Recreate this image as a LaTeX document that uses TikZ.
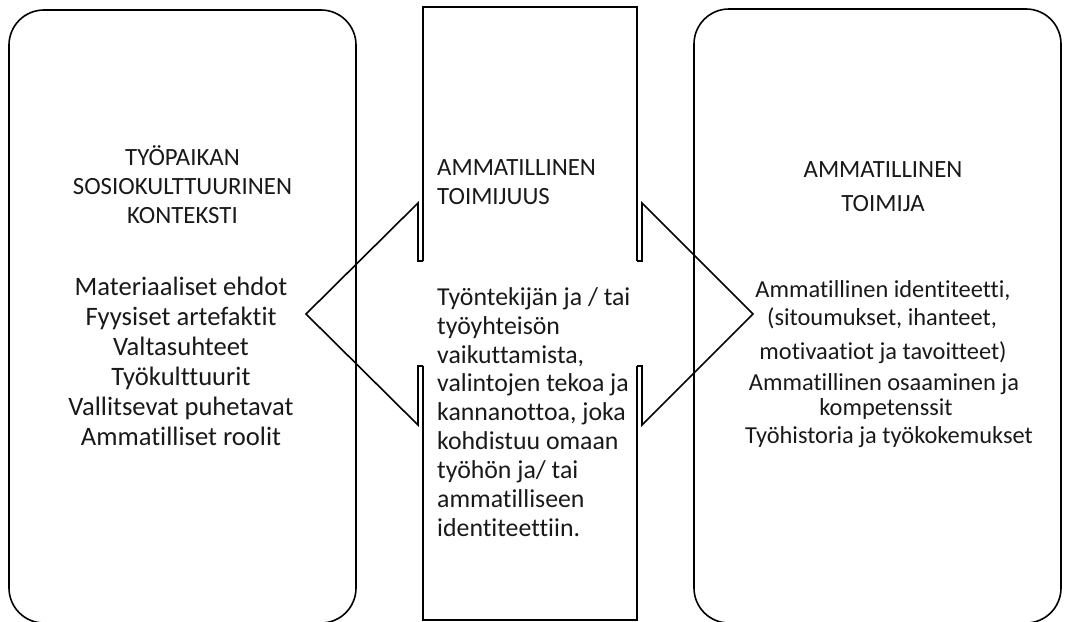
\documentclass[tikz,border=0pt]{standalone}
\usepackage{fontspec}
\setmainfont{Carlito}[Ligatures=NoCommon]
\begin{document}
\begin{tikzpicture}[x=1pt,y=-1pt,
  frame/.style={line width=1.6pt, draw=black},
  txt/.style={anchor=base, inner sep=0pt, text=black!90},
  head/.style={txt, font=\fontsize{24.8}{29}\selectfont},
  lbody/.style={txt, font=\fontsize{26.6}{30}\selectfont},
  mbody/.style={txt, anchor=base west, font=\fontsize{25.8}{30}\selectfont},
  rbody/.style={txt, font=\fontsize{24.4}{30}\selectfont}]
\useasboundingbox (0,0) rectangle (1065,621);
\begin{scope}
\clip (0,0) rectangle (1065,621);
% left rounded box
\draw[frame, rounded corners=35pt] (9,10) rectangle (356,623);
% right rounded box
\draw[frame, rounded corners=35pt] (694,9) rectangle (1061,623);
\end{scope}
% middle box coordinates
\coordinate (mtl) at (423,7);
\coordinate (mtr) at (637,7);
\coordinate (mbl) at (423,620);
\coordinate (mbr) at (637,620);
\coordinate (mlu) at (423,261);
\coordinate (mld) at (423,366);
\coordinate (mru) at (637,261);
\coordinate (mrd) at (637,366);
\draw[frame, line join=miter] (mlu) -- (mtl) -- (mtr) -- (mru);
\draw[frame, line join=miter] (mld) -- (mbl) -- (mbr) -- (mrd);
% left arrow head
\coordinate (la1) at (418,261);
\coordinate (la2) at (418,203);
\coordinate (ltip) at (306,314);
\coordinate (la3) at (418,425);
\coordinate (la4) at (418,366);
\draw[frame, line join=miter] (mlu) -- (la1) -- (la2) -- (ltip) -- (la3) -- (la4) -- (mld);
% right arrow head
\coordinate (ra1) at (642,261);
\coordinate (ra2) at (642,203);
\coordinate (rtip) at (753,314);
\coordinate (ra3) at (642,425);
\coordinate (ra4) at (642,366);
\draw[frame, line join=miter] (mru) -- (ra1) -- (ra2) -- (rtip) -- (ra3) -- (ra4) -- (mrd);
% left texts
\node[head] (lh1) at (182.5,165) {TYÖPAIKAN};
\node[head] (lh2) at (182.5,194) {SOSIOKULTTUURINEN};
\node[head] (lh3) at (182.5,223) {KONTEKSTI};
\node[lbody] (l1) at (181,295) {Materiaaliset ehdot};
\node[lbody] (l2) at (181,325) {Fyysiset artefaktit};
\node[lbody] (l3) at (181,355) {Valtasuhteet};
\node[lbody] (l4) at (181,385) {Työkulttuurit};
\node[lbody] (l5) at (181,415) {Vallitsevat puhetavat};
\node[lbody] (l6) at (181,445) {Ammatilliset roolit};
% middle texts
\node[head, anchor=base west] (mh1) at (437,175) {AMMATILLINEN};
\node[head, anchor=base west] (mh2) at (437,204) {TOIMIJUUS};
\node[mbody] (m1) at (437,305) {Työntekijän ja / tai};
\node[mbody] (m2) at (437,334) {työyhteisön};
\node[mbody] (m3) at (437,363) {vaikuttamista,};
\node[mbody] (m4) at (437,391) {valintojen tekoa ja};
\node[mbody] (m5) at (437,420) {kannanottoa, joka};
\node[mbody] (m6) at (437,449) {kohdistuu omaan};
\node[mbody] (m7) at (437,478) {työhön ja/ tai};
\node[mbody] (m8) at (437,507) {ammatilliseen};
\node[mbody] (m9) at (437,536) {identiteettiin.};
% right texts
\node[rbody] (rh1) at (883,177) {\fontsize{24.8}{29}\selectfont AMMATILLINEN};
\node[rbody] (rh2) at (883,211) {\fontsize{24.8}{29}\selectfont TOIMIJA};
\node[rbody] (r1) at (883,297) {Ammatillinen identiteetti,};
\node[rbody] (r2) at (882,325) {(sitoumukset, ihanteet,};
\node[rbody] (r3) at (883,359) {motivaatiot ja tavoitteet)};
\node[rbody] (r4) at (884,390) {Ammatillinen osaaminen ja};
\node[rbody] (r5) at (886,415) {kompetenssit};
\node[rbody] (r6) at (889,443) {Työhistoria ja työkokemukset};
\end{tikzpicture}
\end{document}
